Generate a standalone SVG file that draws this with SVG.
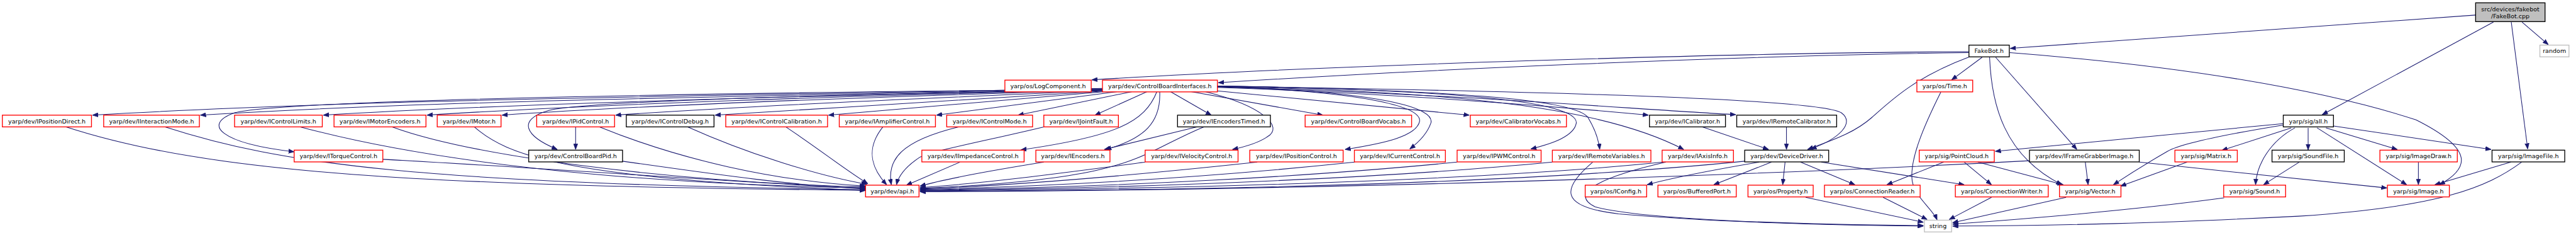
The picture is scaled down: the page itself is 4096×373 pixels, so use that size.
<svg xmlns="http://www.w3.org/2000/svg" width="4096" height="373" viewBox="0 0 4096 373">
<style>
.r{fill:#fff;stroke:#ff0000;stroke-width:1.8}
.k{fill:#fff;stroke:#000;stroke-width:1.8}
.g{fill:#fff;stroke:#bfbfbf;stroke-width:1.8}
.s{fill:#bfbfbf;stroke:#000;stroke-width:1.8}
text{font-family:"DejaVu Sans","Liberation Sans",sans-serif;font-size:12.8px;fill:#000;text-anchor:middle}
#edges path{fill:none;stroke:#191970;stroke-width:1.4;marker-end:url(#ah)}
</style>
<defs>
<marker id="ah" markerUnits="userSpaceOnUse" viewBox="0 0 12 10" refX="12" refY="5" markerWidth="12" markerHeight="10" orient="auto">
<path d="M0,0.5 L12,5 L0,9.5 z" fill="#191970" stroke="#191970" stroke-width="1"/>
</marker>
</defs>
<rect width="4096" height="373" fill="#fff"/>
<g transform="scale(0.74595)">
<g id="edges">
<path d="M5277,32 L4285,103"/>
<path d="M5315,47 L4950,244"/>
<path d="M5353,47 L5388,317"/>
<path d="M5376,47 L5432,95"/>
<path d="M4197,110 C3700,112 2800,140 2327,170"/>
<path d="M4197,112 C3700,118 3000,150 2597,176"/>
<path d="M4225,122 L4160,170"/>
<path d="M4198,121 C4080,165 4030,215 3990,250 C3950,285 3900,300 3853,318"/>
<path d="M4241,122 C4245,220 4270,330 4395,393"/>
<path d="M4254,122 L4427,318"/>
<path d="M4284,112 C4650,140 4950,190 5150,255 C5280,320 5260,360 5200,393"/>
<path d="M2350,188 C1500,205 800,210 197,245"/>
<path d="M2350,189 C1600,205 900,215 427,245"/>
<path d="M2350,190 C1700,205 1100,220 689,245"/>
<path d="M2350,191 C1800,205 1300,220 910,245"/>
<path d="M2350,192 C1900,205 1400,222 1070,245"/>
<path d="M2350,193 C2000,208 1600,225 1312,245"/>
<path d="M2352,194 C2100,210 1800,228 1524,245"/>
<path d="M2355,195 C2150,212 1950,230 1766,245"/>
<path d="M2381,195 L1996,245"/>
<path d="M2350,190 C1300,200 600,215 500,240 C430,265 470,305 627,323"/>
<path d="M2350,192 C1800,200 1250,215 1170,235 C1100,255 1120,290 1188,318"/>
<path d="M2413,195 L2170,245"/>
<path d="M2445,195 L2334,245"/>
<path d="M2495,195 L2582,245"/>
<path d="M2466,195 C2440,260 2380,290 2176,319"/>
<path d="M2472,195 C2475,260 2440,295 2357,318"/>
<path d="M2569,195 C2690,225 2740,270 2700,292 C2680,305 2655,312 2627,318"/>
<path d="M2539,195 L2820,245"/>
<path d="M2580,192 C2800,212 3000,232 3132,245"/>
<path d="M2595,186 C3000,200 3300,225 3514,245"/>
<path d="M2595,185 C3100,200 3450,230 3700,244"/>
<path d="M2595,183 C3300,195 3880,210 3925,240 C3955,262 3920,295 3860,317"/>
<path d="M2595,184 C2900,195 3030,225 3026,258 C3020,290 2950,305 2867,318"/>
<path d="M2595,184 C2950,195 3060,230 3050,262 C3042,285 3025,302 3005,317"/>
<path d="M2595,183 C3100,192 3365,215 3360,262 C3355,290 3310,305 3263,317"/>
<path d="M2595,183 C3150,193 3360,215 3385,250 C3400,275 3408,300 3410,318"/>
<path d="M2595,184 C3150,195 3430,235 3589,318"/>
<path d="M2551,270 L2354,318"/>
<path d="M1227,270 L1227,318"/>
<path d="M3629,270 L3770,318"/>
<path d="M3808,270 L3808,318"/>
<path d="M4137,196 C4100,270 4070,340 4076,385 C4082,420 4120,445 4129,468"/>
<path d="M141,270 C450,370 900,395 1845,405"/>
<path d="M352,270 C600,350 900,390 1845,404"/>
<path d="M640,270 C900,340 1300,390 1845,400"/>
<path d="M836,270 C1000,330 1400,385 1845,398"/>
<path d="M816,339 C1200,360 1600,390 1845,401"/>
<path d="M1011,270 C1080,330 1200,380 1845,405"/>
<path d="M1278,270 C1450,340 1650,385 1845,396"/>
<path d="M1466,270 C1600,330 1750,375 1848,392"/>
<path d="M1675,270 C1750,320 1800,360 1850,391"/>
<path d="M1327,343 C1550,375 1700,395 1845,402"/>
<path d="M1882,270 C1850,310 1850,350 1890,393"/>
<path d="M2043,270 C1920,300 1890,340 1900,393"/>
<path d="M2225,270 C2100,300 1990,320 1960,335 C1930,355 1915,375 1911,393"/>
<path d="M2046,345 L1932,394"/>
<path d="M2225,345 C2100,365 2000,385 1961,396"/>
<path d="M2566,270 C2420,330 2430,380 1961,401"/>
<path d="M2441,345 C2250,370 2100,390 1961,399"/>
<path d="M2680,345 C2400,375 2150,395 1961,402"/>
<path d="M2888,345 C2600,375 2300,395 1961,403"/>
<path d="M3106,345 C2800,375 2400,398 1961,404"/>
<path d="M3309,345 C3000,375 2500,400 1961,405"/>
<path d="M3545,345 C3200,380 2600,402 1961,406"/>
<path d="M3719,343 C3300,385 2700,405 1961,407"/>
<path d="M4326,342 C3700,375 2800,405 1961,408"/>
<path d="M3750,345 C3650,362 3560,380 3511,393"/>
<path d="M3776,345 L3653,393"/>
<path d="M3805,345 L3800,393"/>
<path d="M3838,345 L3954,393"/>
<path d="M3882,345 L4187,393"/>
<path d="M4143,345 L4022,393"/>
<path d="M4187,345 L4245,393"/>
<path d="M4216,345 L4398,393"/>
<path d="M4445,345 L4451,393"/>
<path d="M4560,345 L5088,400"/>
<path d="M4867,263 L4253,322"/>
<path d="M4867,266 C4750,285 4650,305 4620,322 C4580,345 4540,370 4505,393"/>
<path d="M4884,272 L4736,320"/>
<path d="M4892,272 C4840,300 4810,350 4808,393"/>
<path d="M4920,272 L4920,319"/>
<path d="M4939,272 L5130,393"/>
<path d="M4958,272 L5110,318"/>
<path d="M4974,268 L5310,318"/>
<path d="M4662,345 L4520,396"/>
<path d="M4901,345 L4825,393"/>
<path d="M5155,345 L5155,393"/>
<path d="M5352,345 L5190,393"/>
<path d="M5375,345 C5300,400 5200,440 4900,460 C4600,475 4400,480 4162,481"/>
<path d="M4741,421 C4600,440 4400,460 4162,477"/>
<path d="M4404,420 L4162,474"/>
<path d="M3849,420 L4100,473"/>
<path d="M4014,420 L4108,467"/>
<path d="M4245,420 L4155,467"/>
<path d="M3395,345 C3330,400 3320,440 3450,455 C3650,472 3900,480 4100,481"/>
<path d="M3551,345 C3420,375 3340,410 3400,440 C3500,468 3850,478 4100,480"/>
</g>
<g id="n_fakebot_cpp"><rect class="s" x="5277" y="6" width="148" height="40"/><text x="5351" y="23.5">src/devices/fakebot</text><text x="5351" y="39">/FakeBot.cpp</text></g>
<g id="n_random"><rect class="g" x="5414" y="96" width="62" height="25"/><text x="5445" y="113.1">random</text></g>
<g id="n_fakebot_h"><rect class="k" x="4197" y="96" width="86" height="25"/><text x="4240" y="113.1">FakeBot.h</text></g>
<g id="n_logcomponent"><rect class="r" x="2142" y="170.5" width="184" height="25"/><text x="2234" y="187.6">yarp/os/LogComponent.h</text></g>
<g id="n_cbi"><rect class="r" x="2350" y="170.5" width="245" height="25"/><text x="2472.5" y="187.6">yarp/dev/ControlBoardInterfaces.h</text></g>
<g id="n_time"><rect class="r" x="4086" y="170.5" width="119" height="25"/><text x="4145.5" y="187.6">yarp/os/Time.h</text></g>
<g id="n_ipositiondirect"><rect class="r" x="5" y="245" width="190" height="25"/><text x="100" y="262.1">yarp/dev/IPositionDirect.h</text></g>
<g id="n_iinteractionmode"><rect class="r" x="221" y="245" width="204" height="25"/><text x="323" y="262.1">yarp/dev/IInteractionMode.h</text></g>
<g id="n_icontrollimits"><rect class="r" x="500" y="245" width="187" height="25"/><text x="593.5" y="262.1">yarp/dev/IControlLimits.h</text></g>
<g id="n_imotorencoders"><rect class="r" x="712" y="245" width="196" height="25"/><text x="810" y="262.1">yarp/dev/IMotorEncoders.h</text></g>
<g id="n_imotor"><rect class="r" x="932" y="245" width="136" height="25"/><text x="1000" y="262.1">yarp/dev/IMotor.h</text></g>
<g id="n_ipidcontrol"><rect class="r" x="1144" y="245" width="166" height="25"/><text x="1227" y="262.1">yarp/dev/IPidControl.h</text></g>
<g id="n_icontroldebug"><rect class="k" x="1335" y="245" width="187" height="25"/><text x="1428.5" y="262.1">yarp/dev/IControlDebug.h</text></g>
<g id="n_icontrolcalibration"><rect class="r" x="1547" y="245" width="217" height="25"/><text x="1655.5" y="262.1">yarp/dev/IControlCalibration.h</text></g>
<g id="n_iamplifiercontrol"><rect class="r" x="1789" y="245" width="205" height="25"/><text x="1891.5" y="262.1">yarp/dev/IAmplifierControl.h</text></g>
<g id="n_icontrolmode"><rect class="r" x="2018" y="245" width="183" height="25"/><text x="2109.5" y="262.1">yarp/dev/IControlMode.h</text></g>
<g id="n_ijointfault"><rect class="r" x="2225" y="245" width="159" height="25"/><text x="2304.5" y="262.1">yarp/dev/IJointFault.h</text></g>
<g id="n_iencoderstimed"><rect class="k" x="2510" y="245" width="198" height="25"/><text x="2609" y="262.1">yarp/dev/IEncodersTimed.h</text></g>
<g id="n_controlboardvocabs"><rect class="r" x="2782" y="245" width="227" height="25"/><text x="2895.5" y="262.1">yarp/dev/ControlBoardVocabs.h</text></g>
<g id="n_calibratorvocabs"><rect class="r" x="3134" y="245" width="205" height="25"/><text x="3236.5" y="262.1">yarp/dev/CalibratorVocabs.h</text></g>
<g id="n_icalibrator"><rect class="k" x="3516" y="245" width="162" height="25"/><text x="3597" y="262.1">yarp/dev/ICalibrator.h</text></g>
<g id="n_iremotecalibrator"><rect class="k" x="3702" y="245" width="213" height="25"/><text x="3808.5" y="262.1">yarp/dev/IRemoteCalibrator.h</text></g>
<g id="n_all"><rect class="k" x="4867" y="245" width="107" height="25"/><text x="4920.5" y="262.1">yarp/sig/all.h</text></g>
<g id="n_itorquecontrol"><rect class="r" x="627" y="319.5" width="189" height="25"/><text x="721.5" y="336.6">yarp/dev/ITorqueControl.h</text></g>
<g id="n_controlboardpid"><rect class="k" x="1127" y="319.5" width="200" height="25"/><text x="1227" y="336.6">yarp/dev/ControlBoardPid.h</text></g>
<g id="n_iimpedancecontrol"><rect class="r" x="1965" y="319.5" width="218" height="25"/><text x="2074" y="336.6">yarp/dev/IImpedanceControl.h</text></g>
<g id="n_iencoders"><rect class="r" x="2208" y="319.5" width="158" height="25"/><text x="2287" y="336.6">yarp/dev/IEncoders.h</text></g>
<g id="n_ivelocitycontrol"><rect class="r" x="2441" y="319.5" width="198" height="25"/><text x="2540" y="336.6">yarp/dev/IVelocityControl.h</text></g>
<g id="n_ipositioncontrol"><rect class="r" x="2664" y="319.5" width="199" height="25"/><text x="2763.5" y="336.6">yarp/dev/IPositionControl.h</text></g>
<g id="n_icurrentcontrol"><rect class="r" x="2887" y="319.5" width="194" height="25"/><text x="2984" y="336.6">yarp/dev/ICurrentControl.h</text></g>
<g id="n_ipwmcontrol"><rect class="r" x="3106" y="319.5" width="179" height="25"/><text x="3195.5" y="336.6">yarp/dev/IPWMControl.h</text></g>
<g id="n_iremotevariables"><rect class="r" x="3309" y="319.5" width="210" height="25"/><text x="3414" y="336.6">yarp/dev/IRemoteVariables.h</text></g>
<g id="n_iaxisinfo"><rect class="r" x="3543" y="319.5" width="152" height="25"/><text x="3619" y="336.6">yarp/dev/IAxisInfo.h</text></g>
<g id="n_devicedriver"><rect class="k" x="3719" y="319.5" width="179" height="25"/><text x="3808.5" y="336.6">yarp/dev/DeviceDriver.h</text></g>
<g id="n_pointcloud"><rect class="r" x="4091" y="319.5" width="160" height="25"/><text x="4171" y="336.6">yarp/sig/PointCloud.h</text></g>
<g id="n_iframegrabberimage"><rect class="k" x="4326" y="319.5" width="234" height="25"/><text x="4443" y="336.6">yarp/dev/IFrameGrabberImage.h</text></g>
<g id="n_matrix"><rect class="r" x="4636" y="319.5" width="133" height="25"/><text x="4702.5" y="336.6">yarp/sig/Matrix.h</text></g>
<g id="n_soundfile"><rect class="k" x="4843" y="319.5" width="154" height="25"/><text x="4920" y="336.6">yarp/sig/SoundFile.h</text></g>
<g id="n_imagedraw"><rect class="r" x="5073" y="319.5" width="165" height="25"/><text x="5155.5" y="336.6">yarp/sig/ImageDraw.h</text></g>
<g id="n_imagefile"><rect class="k" x="5312" y="319.5" width="155" height="25"/><text x="5389.5" y="336.6">yarp/sig/ImageFile.h</text></g>
<g id="n_api"><rect class="r" x="1845" y="394" width="114" height="25"/><text x="1902" y="411.1">yarp/dev/api.h</text></g>
<g id="n_iconfig"><rect class="r" x="3379" y="394" width="131" height="25"/><text x="3444.5" y="411.1">yarp/os/IConfig.h</text></g>
<g id="n_bufferedport"><rect class="r" x="3534" y="394" width="167" height="25"/><text x="3617.5" y="411.1">yarp/os/BufferedPort.h</text></g>
<g id="n_property"><rect class="r" x="3726" y="394" width="139" height="25"/><text x="3795.5" y="411.1">yarp/os/Property.h</text></g>
<g id="n_connectionreader"><rect class="r" x="3889" y="394" width="204" height="25"/><text x="3991" y="411.1">yarp/os/ConnectionReader.h</text></g>
<g id="n_connectionwriter"><rect class="r" x="4168" y="394" width="198" height="25"/><text x="4267" y="411.1">yarp/os/ConnectionWriter.h</text></g>
<g id="n_vector"><rect class="r" x="4390" y="394" width="131" height="25"/><text x="4455.5" y="411.1">yarp/sig/Vector.h</text></g>
<g id="n_sound"><rect class="r" x="4740" y="394" width="132" height="25"/><text x="4806" y="411.1">yarp/sig/Sound.h</text></g>
<g id="n_image"><rect class="r" x="5089" y="394" width="132" height="25"/><text x="5155" y="411.1">yarp/sig/Image.h</text></g>
<g id="n_string"><rect class="g" x="4102" y="468.5" width="58" height="25"/><text x="4131" y="485.6">string</text></g>
</g>
</svg>
